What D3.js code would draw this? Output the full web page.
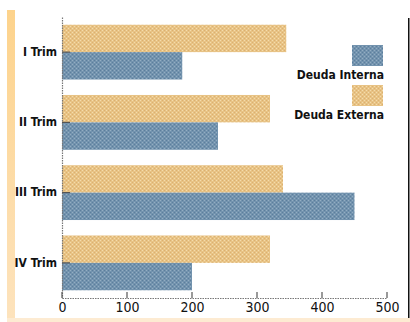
<!DOCTYPE html>
<html><head><meta charset="utf-8">
<script src="https://cdn.jsdelivr.net/npm/d3@7"></script>
<style>
html,body{margin:0;padding:0;background:#fff;}
svg{display:block;}
text{font-family:"DejaVu Sans Condensed","Liberation Sans Narrow","Liberation Sans",sans-serif;font-stretch:condensed;}
</style></head>
<body>
<script>
const categories = ["I Trim", "II Trim", "III Trim", "IV Trim"];
const deudaExterna = [345, 320, 340, 320];
const deudaInterna = [185, 240, 450, 200];
const seriesNames = ["Deuda Interna", "Deuda Externa"];
const xTicks = [0, 100, 200, 300, 400, 500];

const W = 410, H = 322;
const svg = d3.select("body").append("svg").attr("width", W).attr("height", H);
const defs = svg.append("defs");

function pat(id, base, light, dark) {
  const p = defs.append("pattern").attr("id", id).attr("patternUnits", "userSpaceOnUse")
    .attr("width", 4).attr("height", 4);
  p.append("rect").attr("width", 4).attr("height", 4).attr("fill", base);
  p.append("rect").attr("x", 0).attr("y", 0).attr("width", 1).attr("height", 1).attr("fill", light);
  p.append("rect").attr("x", 2).attr("y", 2).attr("width", 1).attr("height", 1).attr("fill", light);
  p.append("rect").attr("x", 2).attr("y", 0).attr("width", 1).attr("height", 1).attr("fill", dark);
  p.append("rect").attr("x", 0).attr("y", 2).attr("width", 1).attr("height", 1).attr("fill", dark);
}
pat("pOrange", "#e8c385", "#f4dcac", "#dcb070");
pat("pBlue", "#7393ae", "#93adc2", "#5c7e9c");

const grad = defs.append("linearGradient").attr("id", "gStrip").attr("x1", 0).attr("x2", 0).attr("y1", 0).attr("y2", 1);
grad.append("stop").attr("offset", "0%").attr("stop-color", "#fdd38c");
grad.append("stop").attr("offset", "100%").attr("stop-color", "#fde3bd");

// frame decorations
svg.append("rect").attr("x", 7).attr("y", 10).attr("width", 8).attr("height", 312).attr("fill", "url(#gStrip)");
svg.append("rect").attr("x", 7).attr("y", 318).attr("width", 403).attr("height", 4).attr("fill", "#fdebd2");
svg.append("rect").attr("x", 408).attr("y", 18).attr("width", 1.5).attr("height", 300).attr("fill", "#111");

const x = d3.scaleLinear().domain([0, 500]).range([62, 387]);
const y = d3.scaleBand().domain(categories).range([17, 298]).paddingInner(0.22).paddingOuter(0.11);
const sub = d3.scaleBand().domain(["ext", "int"]).range([0, y.bandwidth()]);

const g = svg.append("g");
categories.forEach((c, i) => {
  g.append("rect").attr("x", x(0)).attr("y", y(c) + sub("ext"))
    .attr("width", x(deudaExterna[i]) - x(0)).attr("height", sub.bandwidth())
    .attr("fill", "url(#pOrange)");
  g.append("rect").attr("x", x(0)).attr("y", y(c) + sub("int"))
    .attr("width", x(deudaInterna[i]) - x(0)).attr("height", sub.bandwidth())
    .attr("fill", "url(#pBlue)");
});

// y axis
const yAxis = svg.append("g").attr("transform", `translate(${x(0)},0)`)
  .call(d3.axisLeft(y).tickSize(0).tickPadding(5));
yAxis.select(".domain").attr("stroke", "#777").attr("stroke-dasharray", "1.5,1").attr("stroke-width", 1.2);
yAxis.selectAll("text").attr("font-size", 12).attr("fill", "#111").attr("font-weight", "bold");
categories.forEach(c => {
  yAxis.append("line").attr("x1", 0).attr("x2", 8)
    .attr("y1", y(c) + y.bandwidth() / 2).attr("y2", y(c) + y.bandwidth() / 2)
    .attr("stroke", "#555").attr("stroke-width", 1.2);
});

// x axis
const xAxis = svg.append("g").attr("transform", `translate(0,298)`)
  .call(d3.axisBottom(x).tickValues(xTicks).tickSize(0).tickPadding(4).tickFormat(d3.format("d")));
xAxis.select(".domain").attr("stroke", "#777").attr("stroke-dasharray", "1.5,1").attr("stroke-width", 1.2);
xAxis.selectAll("text").attr("font-size", 14).attr("fill", "#111");
xTicks.forEach(t => {
  xAxis.append("line").attr("x1", x(t)).attr("x2", x(t)).attr("y1", 0).attr("y2", -6)
    .attr("stroke", "#555").attr("stroke-width", 1.2);
});

// legend
const leg = svg.append("g");
const legFills = ["url(#pBlue)", "url(#pOrange)"];
seriesNames.forEach((n, i) => {
  const y0 = 45 + i * 40;
  leg.append("rect").attr("x", 352).attr("y", y0).attr("width", 31).attr("height", 21).attr("fill", legFills[i]);
  leg.append("text").attr("x", 384).attr("y", y0 + 34).attr("text-anchor", "end")
    .attr("font-size", 12).attr("font-weight", "bold").attr("fill", "#111").text(n);
});
</script>
</body></html>
